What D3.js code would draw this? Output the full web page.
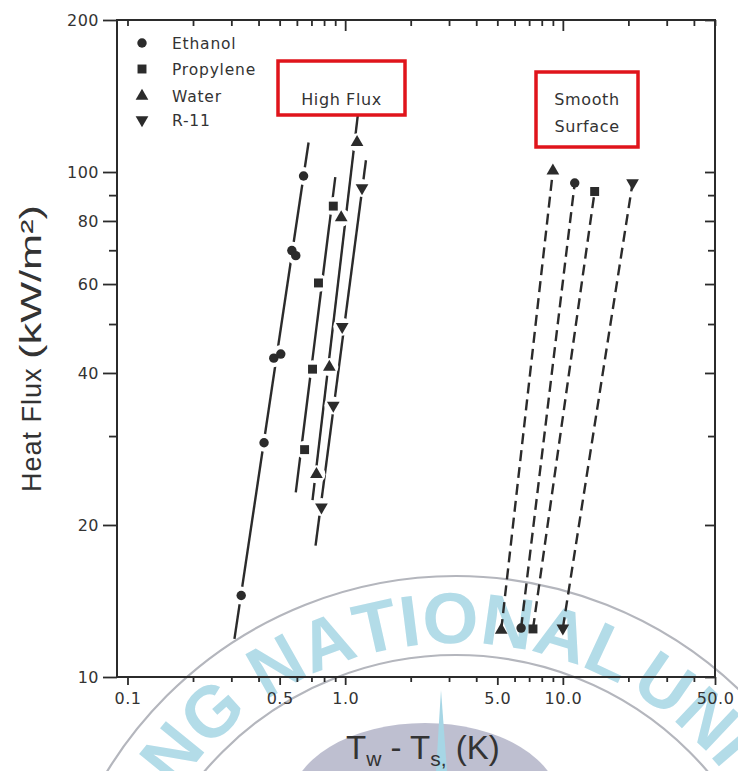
<!DOCTYPE html>
<html>
<head>
<meta charset="utf-8">
<script src="https://cdn.jsdelivr.net/npm/d3@7"></script>
<style>
  html, body { margin: 0; padding: 0; background: #fff; }
  svg { display: block; }
</style>
</head>
<body>
<svg id="chart" width="738" height="771"></svg>
<script>
// ---- Data: wall superheat Tw - Ts (K) vs. heat flux (kW/m²) ----
const fluids = ["Ethanol", "Propylene", "Water", "R-11"];
const fluidSymbols = ["circle", "square", "triangle", "triangleDown"];

// High-flux (enhanced) surface measurements
const hfEthanolX   = [0.333, 0.424, 0.470, 0.506, 0.569, 0.593, 0.644];
const hfEthanolY   = [14.5, 29.1, 42.8, 43.6, 69.9, 68.3, 98.2];
const hfPropyleneX = [0.651, 0.708, 0.754, 0.882];
const hfPropyleneY = [28.2, 40.7, 60.3, 85.6];
const hfWaterX     = [0.738, 0.846, 0.959, 1.134];
const hfWaterY     = [25.2, 41.1, 81.2, 114.5];
const hfR11X       = [0.778, 0.882, 0.969, 1.195];
const hfR11Y       = [21.7, 34.5, 49.4, 93.0];

// High-flux correlation lines (end points)
const hfFitEthanolX   = [0.310, 0.679];
const hfFitEthanolY   = [11.9, 114.4];
const hfFitPropyleneX = [0.593, 0.901];
const hfFitPropyleneY = [23.2, 97.7];
const hfFitWaterX     = [0.708, 1.146];
const hfFitWaterY     = [22.4, 130.8];
const hfFitR11X       = [0.731, 1.246];
const hfFitR11Y       = [18.2, 105.5];

// Smooth surface: low and high flux end points
const smEthanolX   = [6.43, 11.34];
const smEthanolY   = [12.5, 95.1];
const smPropyleneX = [7.29, 14.0];
const smPropyleneY = [12.45, 91.5];
const smWaterX     = [5.21, 9.00];
const smWaterY     = [12.39, 100.5];
const smR11X       = [10.0, 20.9];
const smR11Y       = [12.5, 95.1];

// Axis ticks
const xTickValues  = [0.1,0.2,0.3,0.4,0.5,0.6,0.7,0.8,0.9,1,2,3,4,5,6,7,8,9,10,20,30,40,50];
const xLabelValues = [0.1, 0.5, 1, 5, 10, 50];
const xLabelTexts  = ["0.1", "0.5", "1.0", "5.0", "10.0", "50.0"];
const yTickValues  = [10,20,30,40,50,60,70,80,90,100,200];
const yLabelValues = [10, 20, 40, 60, 80, 100, 200];
const yLabelTexts  = ["10", "20", "40", "60", "80", "100", "200"];

// ---- Build series ----
const hfPoints = [
  {x: hfEthanolX, y: hfEthanolY},
  {x: hfPropyleneX, y: hfPropyleneY},
  {x: hfWaterX, y: hfWaterY},
  {x: hfR11X, y: hfR11Y}
];
const hfFits = [
  {x: hfFitEthanolX, y: hfFitEthanolY},
  {x: hfFitPropyleneX, y: hfFitPropyleneY},
  {x: hfFitWaterX, y: hfFitWaterY},
  {x: hfFitR11X, y: hfFitR11Y}
];
const smooth = [
  {x: smEthanolX, y: smEthanolY},
  {x: smPropyleneX, y: smPropyleneY},
  {x: smWaterX, y: smWaterY},
  {x: smR11X, y: smR11Y}
];
const zip = s => s.x.map((v, i) => [v, s.y[i]]);

// ---- Layout ----
const svg = d3.select("#chart");
const plotLeft = 117, plotRight = 715, plotTop = 20, plotBottom = 677;
const x = d3.scaleLog().domain([0.0895, 50]).range([plotLeft, plotRight]);
const y = d3.scaleLog().domain([10, 200]).range([plotBottom, plotTop]);

const ink = "#2b2b2b";
const tickFont = "'DejaVu Sans', sans-serif";
const titleFont = "'Liberation Sans', Arial, sans-serif";

// ---- Watermark seal (drawn first, underneath everything) ----
const wm = svg.append("g").attr("class", "watermark");
const cx = 456, cy = 985;
wm.append("ellipse").attr("cx", 425).attr("cy", 805).attr("rx", 135).attr("ry", 82)
  .attr("fill", "#b7b8cb").attr("opacity", 0.9);
wm.append("path")
  .attr("d", "M436,771 L441,690 L447,771 Z")
  .attr("fill", "#a6d6e5");
wm.append("circle").attr("cx", cx).attr("cy", cy).attr("r", 409)
  .attr("fill", "none").attr("stroke", "#b4b6bd").attr("stroke-width", 2.2);
wm.append("circle").attr("cx", cx).attr("cy", cy).attr("r", 330)
  .attr("fill", "none").attr("stroke", "#b4b6bd").attr("stroke-width", 2.2);

// seal lettering, set one glyph at a time along an arc
const sealText = "NG NATIONAL UNIV";
const sealR = 342, sealFont = 72;
const sealStart = -85 * Math.PI / 180;   // angle of arc start, clockwise from 12 o'clock
let run = 178;                            // arc length before first glyph
const probe = svg.append("text").attr("font-family", titleFont)
  .attr("font-weight", "bold").attr("font-size", sealFont).attr("opacity", 0);
sealText.split("").forEach((ch, k) => {
  probe.text(ch === " " ? "\u00a0" : ch);
  let w = probe.node().getComputedTextLength();
  if (ch === " " && k > 4) w *= 0.5;      // tighter gap before the last word
  if (ch !== " ") {
    const th = sealStart + (run + w / 2) / sealR;
    const px = cx + sealR * Math.sin(th), py = cy - sealR * Math.cos(th);
    wm.append("text")
      .attr("transform", `translate(${px},${py}) rotate(${th * 180 / Math.PI})`)
      .attr("text-anchor", "middle")
      .attr("font-family", titleFont).attr("font-weight", "bold").attr("font-size", sealFont)
      .attr("fill", "#a6d6e5").attr("opacity", 0.85)
      .text(ch);
  }
  run += w;
});
probe.remove();

// ---- Frame ----
svg.append("rect").attr("x", plotLeft).attr("y", plotTop)
  .attr("width", plotRight - plotLeft).attr("height", plotBottom - plotTop)
  .attr("fill", "none").attr("stroke", ink).attr("stroke-width", 2);

// ---- Axes ----
const xLabel = v => { const i = xLabelValues.indexOf(v); return i >= 0 ? xLabelTexts[i] : ""; };
const yLabel = v => { const i = yLabelValues.indexOf(v); return i >= 0 ? yLabelTexts[i] : ""; };

function styleAxis(g, majorSet, majorLen, minorLen, dir) {
  g.select(".domain").remove();
  g.selectAll(".tick line")
    .attr("stroke", ink).attr("stroke-width", 1.8)
    .each(function(d) {
      const len = majorSet.includes(d) ? majorLen : minorLen;
      const el = d3.select(this);
      if (dir === "x") el.attr("y2", len); else el.attr("x2", len);
    });
  g.selectAll(".tick text")
    .attr("font-family", tickFont).attr("font-size", 16)
    .attr("letter-spacing", 0.5).attr("fill", "#333");
  // unlabeled minor ticks keep only their line
  g.selectAll(".tick text").filter(function() { return this.textContent === ""; }).remove();
}

const gx = svg.append("g").attr("transform", `translate(0,${plotBottom})`)
  .call(d3.axisBottom(x).tickValues(xTickValues).tickFormat(xLabel).tickSizeOuter(0).tickPadding(10));
styleAxis(gx, xLabelValues, 8, 5, "x");
gx.selectAll(".tick text").attr("y", 16);

const gxt = svg.append("g").attr("transform", `translate(0,${plotTop})`)
  .call(d3.axisTop(x).tickValues(xTickValues).tickFormat(() => "").tickSizeOuter(0));
styleAxis(gxt, [1, 10], 11, 6, "x");

const gy = svg.append("g").attr("transform", `translate(${plotLeft},0)`)
  .call(d3.axisLeft(y).tickValues(yTickValues).tickFormat(yLabel).tickSizeOuter(0).tickPadding(4));
styleAxis(gy, yLabelValues, -14, -8, "y");
gy.selectAll(".tick text").attr("x", -18);

const gyr = svg.append("g").attr("transform", `translate(${plotRight},0)`)
  .call(d3.axisRight(y).tickValues(yTickValues).tickFormat(() => "").tickSizeOuter(0));
styleAxis(gyr, yLabelValues, -10, -7, "y");

// ---- Symbols ----
const symbolTypes = {
  circle: d3.symbolCircle, square: d3.symbolSquare,
  triangle: d3.symbolTriangle, triangleDown: d3.symbolTriangle
};
const symbolSizes = { circle: 70, square: 80, triangle: 70, triangleDown: 70 };
function drawSymbol(g, kind, px, py, fill) {
  g.append("path")
    .attr("d", d3.symbol().type(symbolTypes[kind]).size(symbolSizes[kind])())
    .attr("transform", `translate(${px},${py})` + (kind === "triangleDown" ? " rotate(180)" : ""))
    .attr("fill", fill);
}

const line = d3.line().x(d => x(d[0])).y(d => y(d[1]));

// ---- High-flux correlation lines, broken around markers ----
const hf = svg.append("g");
hfFits.forEach(s => {
  hf.append("path").attr("d", line(zip(s)))
    .attr("fill", "none").attr("stroke", ink).attr("stroke-width", 2.4);
});
hfPoints.forEach(s => {
  zip(s).forEach(p => {
    hf.append("circle").attr("cx", x(p[0])).attr("cy", y(p[1])).attr("r", 9).attr("fill", "#fff");
  });
});
hfPoints.forEach((s, i) => {
  zip(s).forEach(p => drawSymbol(hf, fluidSymbols[i], x(p[0]), y(p[1]), ink));
});

// ---- Smooth surface dashed lines ----
const sm = svg.append("g");
smooth.forEach((s, i) => {
  sm.append("path").attr("d", line(zip(s)))
    .attr("fill", "none").attr("stroke", ink).attr("stroke-width", 2.4)
    .attr("stroke-dasharray", "11,6");
  zip(s).forEach(p => drawSymbol(sm, fluidSymbols[i], x(p[0]), y(p[1]), ink));
});

// ---- Legend ----
const lg = svg.append("g");
const legendRows = [43, 69, 96, 120];
fluids.forEach((name, i) => {
  drawSymbol(lg, fluidSymbols[i], 142, legendRows[i], ink);
  lg.append("text").attr("x", 172).attr("y", legendRows[i] + 6)
    .attr("font-family", tickFont).attr("font-size", 15.5)
    .attr("letter-spacing", 0.8).attr("fill", "#333").text(name);
});

// ---- Annotation boxes ----
function box(x0, y0, w, h, lines, ys) {
  const g = svg.append("g");
  g.append("rect").attr("x", x0).attr("y", y0).attr("width", w).attr("height", h)
    .attr("fill", "#fff").attr("stroke", "#e0141b").attr("stroke-width", 3.5);
  lines.forEach((t, i) => {
    g.append("text").attr("x", x0 + w / 2).attr("y", ys[i])
      .attr("text-anchor", "middle").attr("font-family", tickFont)
      .attr("font-size", 16).attr("letter-spacing", 0.6).attr("fill", "#333").text(t);
  });
}
box(278, 61, 127, 54, ["High Flux"], [105]);
box(536, 72, 102, 75, ["Smooth", "Surface"], [105, 132]);

// ---- Axis titles ----
const yt = svg.append("text")
  .attr("transform", "translate(41,492) rotate(-90)")
  .attr("font-family", titleFont)
  .attr("font-size", 27).attr("fill", "#333");
yt.append("tspan").attr("letter-spacing", 1).text("Heat Flux ");
yt.append("tspan").attr("font-size", 29)
  .attr("textLength", 154).attr("lengthAdjust", "spacingAndGlyphs").text("(kW/m²)");

const xt = svg.append("text").attr("x", 346).attr("y", 759)
  .attr("font-family", titleFont).attr("font-size", 33).attr("fill", "#333");
xt.append("tspan").text("T");
xt.append("tspan").attr("font-size", 21).attr("dy", 7).text("w");
xt.append("tspan").attr("dy", -7).text(" - T");
xt.append("tspan").attr("font-size", 21).attr("dy", 7).text("s,");
xt.append("tspan").attr("dy", -7).text(" (K)");
</script>
</body>
</html>
